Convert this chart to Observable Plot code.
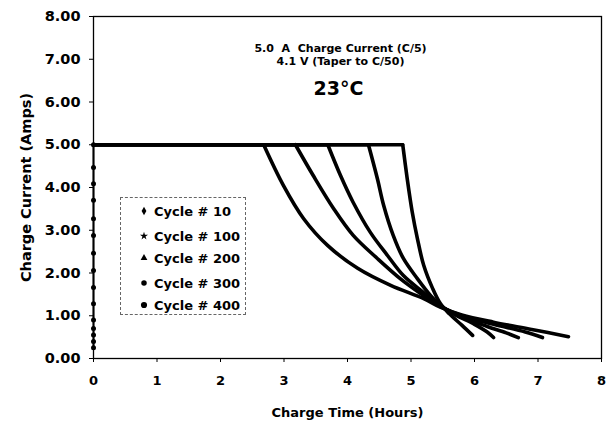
<!DOCTYPE html>
<html><head><meta charset="utf-8">
<script src="https://cdn.jsdelivr.net/npm/d3@7"></script>
<script src="https://cdn.jsdelivr.net/npm/@observablehq/plot@0.6"></script>
<style>
html,body{margin:0;padding:0;background:#fff;}
#wrap{position:relative;width:615px;height:425px;font-family:"DejaVu Sans",sans-serif;}
#legend{position:absolute;left:120px;top:197px;width:126px;height:118px;border:1px dashed #666;box-sizing:border-box;background:#fff;}
.item{position:absolute;left:0;height:20px;display:flex;align-items:center;font-weight:bold;font-size:13px;color:#000;white-space:nowrap;}
.item svg{margin-left:18px;margin-right:5px;}
</style>
</head><body>
<div id="wrap"></div>
<script>
const cycles = ["Cycle # 10", "Cycle # 100", "Cycle # 200", "Cycle # 300", "Cycle # 400"];
const symbols = ["diamond", "star", "triangle", "circle", "circle"];

const t10  = [0, 4.87, 4.94, 5.02, 5.10, 5.20, 5.34, 5.46, 5.60, 5.80, 5.97];
const i10  = [5.0, 5.0, 4.21, 3.42, 2.81, 2.18, 1.64, 1.29, 1.05, 0.78, 0.54];
const t100 = [0, 4.33, 4.47, 4.57, 4.72, 4.88, 5.10, 5.31, 5.46, 5.70, 6.00, 6.20, 6.30];
const i100 = [5.0, 5.0, 4.21, 3.58, 2.88, 2.34, 1.87, 1.47, 1.25, 1.02, 0.80, 0.62, 0.49];
const t200 = [0, 3.69, 3.89, 4.09, 4.36, 4.63, 4.88, 5.20, 5.43, 5.80, 6.20, 6.50, 6.69];
const i200 = [5.0, 5.0, 4.28, 3.65, 2.95, 2.41, 1.94, 1.54, 1.25, 0.97, 0.75, 0.60, 0.49];
const t300 = [0, 3.18, 3.46, 3.78, 4.09, 4.47, 4.83, 5.20, 5.46, 5.80, 6.30, 6.80, 7.07];
const i300 = [5.0, 5.0, 4.28, 3.51, 2.88, 2.34, 1.87, 1.47, 1.22, 1.00, 0.80, 0.62, 0.49];
const t400 = [0, 2.68, 2.99, 3.31, 3.69, 4.16, 4.68, 5.20, 5.46, 5.80, 6.30, 6.90, 7.48];
const i400 = [5.0, 5.0, 4.05, 3.27, 2.64, 2.11, 1.71, 1.40, 1.20, 1.02, 0.85, 0.68, 0.51];

// initial ramp at t = 0
const rampT = [0, 0, 0, 0, 0, 0, 0, 0, 0, 0, 0, 0, 0, 0, 0];
const rampI = [0.25, 0.40, 0.55, 0.70, 0.90, 1.28, 1.66, 2.06, 2.46, 2.88, 3.27, 3.70, 4.09, 4.47, 5.0];

const xTicks = [0, 1, 2, 3, 4, 5, 6, 7, 8];
const yTicks = [0, 1, 2, 3, 4, 5, 6, 7, 8];

const notes = ["5.0  A  Charge Current (C/5)", "4.1 V (Taper to C/50)", "23°C"];

const times = [t10, t100, t200, t300, t400];
const currents = [i10, i100, i200, i300, i400];
const flatRows = [], decayRows = [];
cycles.forEach((c, k) => times[k].forEach((t, j) => {
  const r = {cycle: c, t, i: currents[k][j]};
  if (j <= 1) flatRows.push(r);
  if (j >= 1) decayRows.push(r);
}));
const ramp = rampT.map((t, j) => ({t, i: rampI[j]}));

const font = "DejaVu Sans, sans-serif";
const chart = Plot.plot({
  width: 615, height: 425,
  marginLeft: 93, marginRight: 14, marginTop: 16, marginBottom: 67,
  style: {fontFamily: font, fontSize: "13px", fontWeight: "bold", color: "#000", background: "#fff"},
  x: {domain: [0, 8]},
  y: {domain: [0, 8]},
  marks: [
    Plot.frame({stroke: "#000", strokeWidth: 1.3}),
    Plot.axisX({ticks: xTicks, tickFormat: d => d3.format("d")(d), tickSize: 4, tickPadding: 13,
      label: "Charge Time (Hours)", labelAnchor: "center", labelArrow: "none", labelOffset: 58, fontSize: 13}),
    Plot.axisY({ticks: yTicks, tickFormat: d => d3.format(".2f")(d), tickSize: 4, tickPadding: 9,
      label: "Charge Current (Amps)", labelAnchor: "center", labelArrow: "none", labelOffset: 73, fontSize: 14.5}),
    Plot.line(ramp, {x: "t", y: "i", stroke: "#000", strokeWidth: 2}),
    Plot.dot(ramp, {x: "t", y: "i", r: 2.5, fill: "#000"}),
    Plot.line(flatRows, {x: "t", y: "i", z: "cycle", stroke: "#000", strokeWidth: 3.4}),
    Plot.line(decayRows, {x: "t", y: "i", z: "cycle", stroke: "#000", strokeWidth: 3.6, curve: "catmull-rom"}),
    Plot.text([notes[0]], {frameAnchor: "top", dx: -7, dy: 28, fontSize: 11, fontWeight: "bold"}),
    Plot.text([notes[1]], {frameAnchor: "top", dx: -7, dy: 41, fontSize: 11, fontWeight: "bold"}),
    Plot.text([notes[2]], {frameAnchor: "top", dx: -9, dy: 65, fontSize: 19, fontWeight: "bold"})
  ]
});
const wrap = document.getElementById("wrap");
wrap.appendChild(chart);

const legend = document.createElement("div");
legend.id = "legend";
const tops = [3, 28, 50, 75, 97];
const symMap = {diamond: d3.symbolDiamond, star: d3.symbolStar, triangle: d3.symbolTriangle, circle: d3.symbolCircle};
cycles.forEach((c, k) => {
  const it = document.createElement("div");
  it.className = "item";
  it.style.top = tops[k] + "px";
  const sz = k === 4 ? 30 : (k === 3 ? 24 : 20);
  const path = d3.symbol(symMap[symbols[k]], sz)();
  it.innerHTML = `<svg width="10" height="10" viewBox="-5 -5 10 10"><path d="${path}" fill="#000"/></svg><span>${c}</span>`;
  legend.appendChild(it);
});
wrap.appendChild(legend);
</script>
</body></html>
